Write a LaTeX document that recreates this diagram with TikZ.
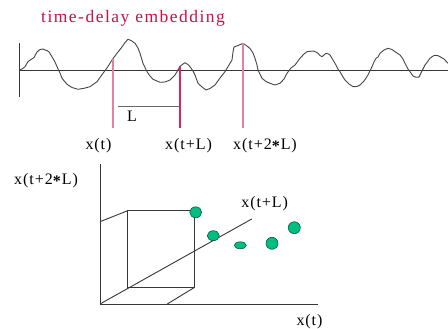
\documentclass[tikz,border=0pt]{standalone}
\usepackage{fontspec}
\setmainfont{Liberation Serif}
\newfontfamily\titlefont[LetterSpace=8.5]{Liberation Serif}
\newfontfamily\labfont[LetterSpace=6]{Liberation Serif}
\usetikzlibrary{shapes.geometric}
\definecolor{crim}{RGB}{204,16,72}
\definecolor{pinkln}{RGB}{226,130,160}
\definecolor{redln}{RGB}{212,40,96}
\definecolor{wavec}{RGB}{70,70,70}
\definecolor{axc}{RGB}{55,55,55}
\definecolor{dotfill}{RGB}{0,190,130}
\definecolor{dotline}{RGB}{0,95,60}
\newcommand{\midast}{\raisebox{-0.32ex}{\textbf{*}}}
\tikzset{
  lab/.style={inner sep=0pt, font=\labfont\fontsize{16}{16}\selectfont, text=black},
  axisln/.style={draw=axc, line width=0.9pt},
  waveln/.style={draw=wavec, line width=0.9pt, line join=round},
  markln/.style={line width=1.5pt},
  dot/.style={ellipse, fill=dotfill, draw=dotline, line width=0.6pt, inner sep=0pt},
}
\begin{document}
\begin{tikzpicture}[x=1pt,y=-1pt]
\useasboundingbox (0,0) rectangle (448,329);
\fill[white] (0,0) rectangle (448,329);
% title
\node[anchor=base west, inner sep=0pt, text=crim, font=\titlefont\fontsize{17.5}{18}\selectfont] (title) at (41,22.8) {time-delay embedding};
% time series axes
\coordinate (vtop) at (19,43);
\coordinate (vbot) at (19,97);
\coordinate (hl) at (19,70.7);
\coordinate (hr) at (448,70.7);
\draw[axisln] (vtop) -- (vbot);
\draw[axisln] (hl) -- (hr);
% waveform
\draw[waveln] plot coordinates {
(19,70) (22,69) (25,66.7) (28,61.7) (31,59.5) (34,57.5) (37,52) (40,49.5) (43,49) (45,50) (47,50.5) (49,52) (52,56.7) (55,62) (57,66.7) (60,73) (62,78.3) (67,84.3) (72,87.5) (78,89.3) (84,88.3) (90,86.7) (97,81.7) (103,73.3) (107,68) (112,60) (118,52) (122,47) (125,42.5) (128,39.3) (131,40.5) (135,43.3) (138,48) (140,53.3) (143,63.3) (147,71.7) (150,76) (153,79.3) (160,82.3) (165,82) (170,80) (175,75) (178,70) (180,66.3) (183,64) (185,62.7) (188,64.5) (190,66.7) (193,71) (195,75) (198,83.3) (202,87) (206,90) (210,88.5) (215,85) (220,78) (225,71.7) (229,65) (232,60) (233,52) (234,47) (238,45.5) (243,43.3) (247,46) (250,48.5) (253,53) (255,58.3) (257,65) (258,70) (262,78.3) (266,81.5) (270,83.3) (275,85) (280,83.3) (284,79) (287,73.3) (291,68) (295,65) (298,61) (300,58.3) (304,54) (307,51.7) (313,51) (316,52) (318,53.3) (320,55.5) (322,56.7) (324,55) (326,53.3) (328,53.8) (330,55) (333,60) (335,63.3) (338,69) (340,71.7) (343,77) (345,80) (349,84) (353,86.7) (357,86.5) (360,85) (364,81) (367,76.7) (370,71) (372,66.7) (374,62) (376,58.3) (378,57) (380,53.3) (384,50) (388,48.3) (392,49.5) (395,51.7) (400,55) (403,59) (405,63.3) (408,69) (410,71.7) (413,76) (416,77.3) (419,77) (421,73) (425,65) (428,61) (430,58.3) (433,56) (435,55.3) (438,55.7) (440,56.7) (444,59) (448,63.3)};
% sample markers
\coordinate (m1t) at (113,58.7);
\coordinate (m1b) at (113,128);
\coordinate (m2t) at (180,66.3);
\coordinate (m2b) at (180,128);
\coordinate (m3t) at (243,43.3);
\coordinate (m3b) at (243,128);
\draw[markln, draw=pinkln] (m1t) -- (m1b);
\draw[markln, draw=redln] (m2t) -- (m2b);
\draw[markln, draw=pinkln] (m3t) -- (m3b);
% lag bracket
\coordinate (lagl) at (117.7,106);
\coordinate (lagr) at (180,106);
\draw[draw=gray!80!black, line width=0.9pt] (lagl) -- (lagr);
\node[lab, anchor=base west] (Llab) at (127,121.5) {L};
% sample labels
\node[lab, anchor=base] (l1) at (98.5,149.3) {x(t)};
\node[lab, anchor=base] (l2) at (188.5,149.3) {x(t+L)};
\node[lab, anchor=base] (l3) at (265,149.3) {x(t+2\midast L)};
% embedding axes
\coordinate (O) at (100,304);
\coordinate (ztop) at (100,164.5);
\coordinate (xend) at (318,304);
\coordinate (yend) at (251.7,219);
\draw[axisln] (O) -- (ztop);
\draw[axisln] (O) -- (xend);
\draw[axisln] (O) -- (yend);
% box
\coordinate (bA) at (127.7,210.7);
\coordinate (bB) at (194,210.7);
\coordinate (bC) at (194,287.7);
\coordinate (bD) at (127.7,287.7);
\coordinate (zA) at (100,221.7);
\coordinate (xA) at (167.3,304);
\draw[axisln] (bA) -- (bB) -- (bC) -- (bD) -- cycle;
\draw[axisln] (zA) -- (bA);
\draw[axisln] (xA) -- (bC);
% points
\node[dot, minimum width=12pt, minimum height=11pt] (d1) at (195.7,212.3) {};
\node[dot, minimum width=12pt, minimum height=10pt] (d2) at (213.3,235.7) {};
\node[dot, minimum width=12pt, minimum height=7pt] (d3) at (240.3,245.3) {};
\node[dot, minimum width=12pt, minimum height=12pt] (d4) at (272,243.3) {};
\node[dot, minimum width=12pt, minimum height=12pt] (d5) at (294.3,227.7) {};
% axis labels
\node[lab, anchor=base west] (az) at (14,184.5) {x(t+2\midast L)};
\node[lab, anchor=base] (ay) at (264.7,207.3) {x(t+L)};
\node[lab, anchor=base] (ax) at (309.5,325) {x(t)};
\end{tikzpicture}
\end{document}
